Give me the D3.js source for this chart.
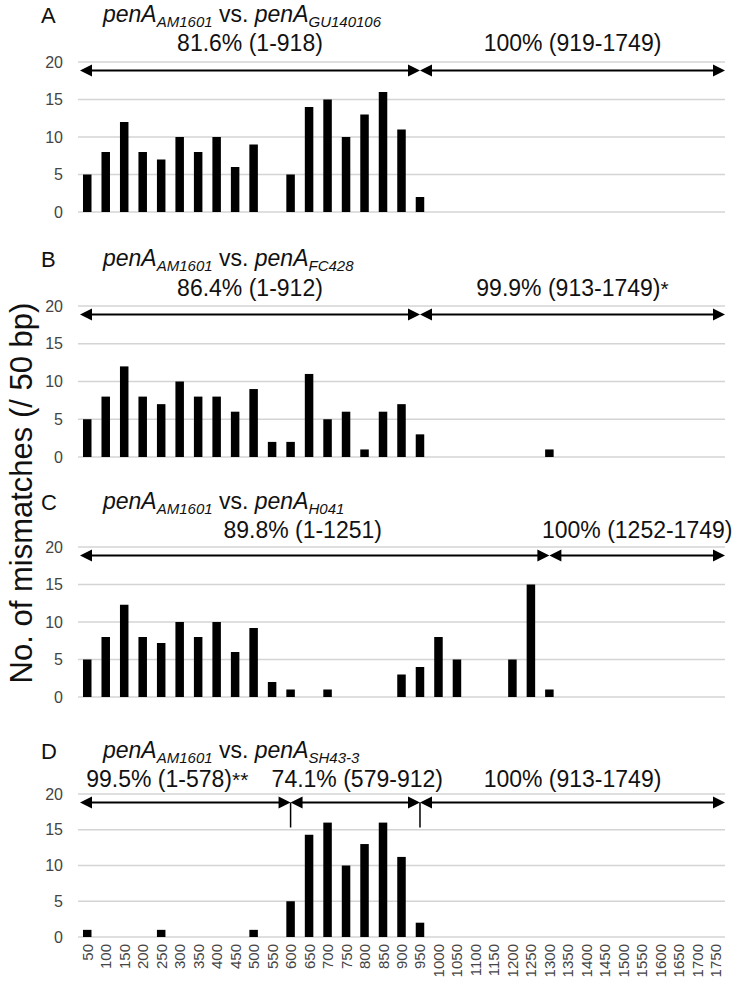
<!DOCTYPE html>
<html>
<head>
<meta charset="utf-8">
<script src="https://cdn.jsdelivr.net/npm/d3@7"></script>
<style>
  body { margin: 0; background: #fff; }
  svg text { font-family: "Liberation Sans", Arial, sans-serif; }
</style>
</head>
<body>
<div id="chart"></div>
<script>
// bin ends (bp), 50 bp windows
var bins = [50,100,150,200,250,300,350,400,450,500,550,600,650,700,750,800,850,900,950,
            1000,1050,1100,1150,1200,1250,1300,1350,1400,1450,1500,1550,1600,1650,1700,1750];
var yTicks = [0,5,10,15,20];

// mismatches per 50 bp window
var valuesA = [5,8,12,8,7,10,8,10,6,9,0,5,14,15,10,13,16,11,2,0,0,0,0,0,0,0,0,0,0,0,0,0,0,0,0];
var valuesB = [5,8,12,8,7,10,8,8,6,9,2,2,11,5,6,1,6,7,3,0,0,0,0,0,0,1,0,0,0,0,0,0,0,0,0];
var valuesC = [5,8,12.3,8,7.2,10,8,10,6,9.2,2,1,0,1,0,0,0,3,4,8,5,0,0,5,15,1,0,0,0,0,0,0,0,0,0];
var valuesD = [1,0,0,0,1,0,0,0,0,1,0,5,14.3,16,10,13,16,11.2,2,0,0,0,0,0,0,0,0,0,0,0,0,0,0,0,0];

var panelLetters = ['A','B','C','D'];
var refStrain = 'AM1601';
var cmpStrains = ['GU140106','FC428','H041','SH43-3'];

// identity segments: [label, start, end]
var segmentsA = [['81.6% (1-918)',1,918],['100% (919-1749)',919,1749]];
var segmentsB = [['86.4% (1-912)',1,912],['99.9% (913-1749)*',913,1749]];
var segmentsC = [['89.8% (1-1251)',1,1251],['100% (1252-1749)',1252,1749]];
var segmentsD = [['99.5% (1-578)**',1,578],['74.1% (579-912)',579,912],['100% (913-1749)',913,1749]];

var W = 733, H = 981;
var svg = d3.select('#chart').append('svg').attr('width', W).attr('height', H);

var x = d3.scaleBand().domain(bins).range([78, 725]).paddingInner(0.54).paddingOuter(0.27);

// layout of each panel: plot top (20) and bottom (0), title and label centre lines,
// and small horizontal nudges for the identity labels
var layout = [
  {top: 62,  bottom: 212, title: 15,  label: 43,  nudge: [0, 0]},
  {top: 306, bottom: 457, title: 259, label: 288, nudge: [0, 0]},
  {top: 547, bottom: 697, title: 502, label: 530, nudge: [-12, 0]},
  {top: 794, bottom: 937, title: 751, label: 779, nudge: [-18, 2, 0]}
];
var allValues = [valuesA, valuesB, valuesC, valuesD];
var allSegments = [segmentsA, segmentsB, segmentsC, segmentsD];

// position on the sequence -> x: the window containing it
function posX(p, isFirst, isLast){
    if (isFirst) return x.range()[0] + 2;
    if (isLast) return x.range()[1];
    var b = Math.ceil(p / 50) * 50;
    return x(b) + x.bandwidth() / 2;
}

layout.forEach(function(L, k){
    var y = d3.scaleLinear().domain([0, 20]).range([L.bottom, L.top]);
    var g = svg.append('g');

    // grid
    g.selectAll('line.grid').data(yTicks).enter().append('line')
        .attr('x1', x.range()[0]).attr('x2', x.range()[1])
        .attr('y1', function(d){ return y(d); }).attr('y2', function(d){ return y(d); })
        .attr('stroke', '#d4d4d4').attr('stroke-width', 1.6);

    // y tick labels
    g.selectAll('text.tick').data(yTicks).enter().append('text')
        .attr('x', 63).attr('y', function(d){ return y(d) + 5.5; })
        .attr('text-anchor', 'end').attr('font-size', 16).attr('fill', '#444')
        .text(function(d){ return d; });

    // bars
    g.selectAll('rect').data(allValues[k]).enter().append('rect')
        .attr('x', function(d, i){ return x(bins[i]); })
        .attr('width', x.bandwidth())
        .attr('y', function(d){ return y(d); })
        .attr('height', function(d){ return y(0) - y(d); })
        .attr('fill', '#000');

    // panel letter + title
    g.append('text').attr('x', 41).attr('y', L.title + 8).attr('font-size', 22).attr('fill', '#111').text(panelLetters[k]);
    var t = g.append('text').attr('x', 103).attr('y', L.title + 7).attr('font-size', 23).attr('fill', '#111');
    t.append('tspan').attr('font-style', 'italic').text('penA');
    t.append('tspan').attr('font-style', 'italic').attr('font-size', 15).attr('dy', 5).text(refStrain);
    t.append('tspan').attr('dy', -5).text(' vs. ');
    t.append('tspan').attr('font-style', 'italic').text('penA');
    t.append('tspan').attr('font-style', 'italic').attr('font-size', 15).attr('dy', 5).text(cmpStrains[k]);

    // identity arrows
    var segs = allSegments[k];
    var ay = L.top + 8.5;
    segs.forEach(function(s, j){
        var x1 = posX(s[1], j === 0, false);
        var x2 = posX(s[2], false, j === segs.length - 1);
        var hl = 12, hw = 6;
        g.append('line').attr('x1', x1 + 4).attr('x2', x2 - 4).attr('y1', ay).attr('y2', ay)
            .attr('stroke', '#000').attr('stroke-width', 2.2);
        g.append('path').attr('d', 'M' + x1 + ',' + ay + 'l' + hl + ',' + (-hw) + 'v' + (2 * hw) + 'z').attr('fill', '#000');
        g.append('path').attr('d', 'M' + x2 + ',' + ay + 'l' + (-hl) + ',' + (-hw) + 'v' + (2 * hw) + 'z').attr('fill', '#000');

        // label; trailing asterisks slightly smaller
        var m = s[0].match(/^(.*?)(\**)$/);
        var lt = g.append('text').attr('x', (x1 + x2) / 2 + L.nudge[j]).attr('y', L.label + 8)
            .attr('text-anchor', 'middle').attr('font-size', 23).attr('fill', '#111');
        lt.append('tspan').text(m[1]);
        if (m[2]) lt.append('tspan').attr('font-size', 21).text(m[2]);

        if (segs.length > 2 && j > 0) {
            g.append('line').attr('x1', x1).attr('x2', x1).attr('y1', ay).attr('y2', ay + 25)
                .attr('stroke', '#000').attr('stroke-width', 1.5);
        }
    });

    // x labels only under the last panel
    if (k === layout.length - 1) {
        g.selectAll('text.xl').data(bins).enter().append('text')
            .attr('transform', function(d){
                return 'translate(' + (x(d) + x.bandwidth() / 2 + 5.5) + ',' + (L.bottom + 7) + ') rotate(-90)';
            })
            .attr('text-anchor', 'end').attr('font-size', 15).attr('fill', '#444')
            .text(function(d){ return d; });
    }
});

// y axis title
svg.append('text')
    .attr('transform', 'translate(32,493) rotate(-90)')
    .attr('text-anchor', 'middle').attr('font-size', 31).attr('fill', '#111')
    .text('No. of mismatches (/ 50 bp)');
</script>
</body>
</html>
